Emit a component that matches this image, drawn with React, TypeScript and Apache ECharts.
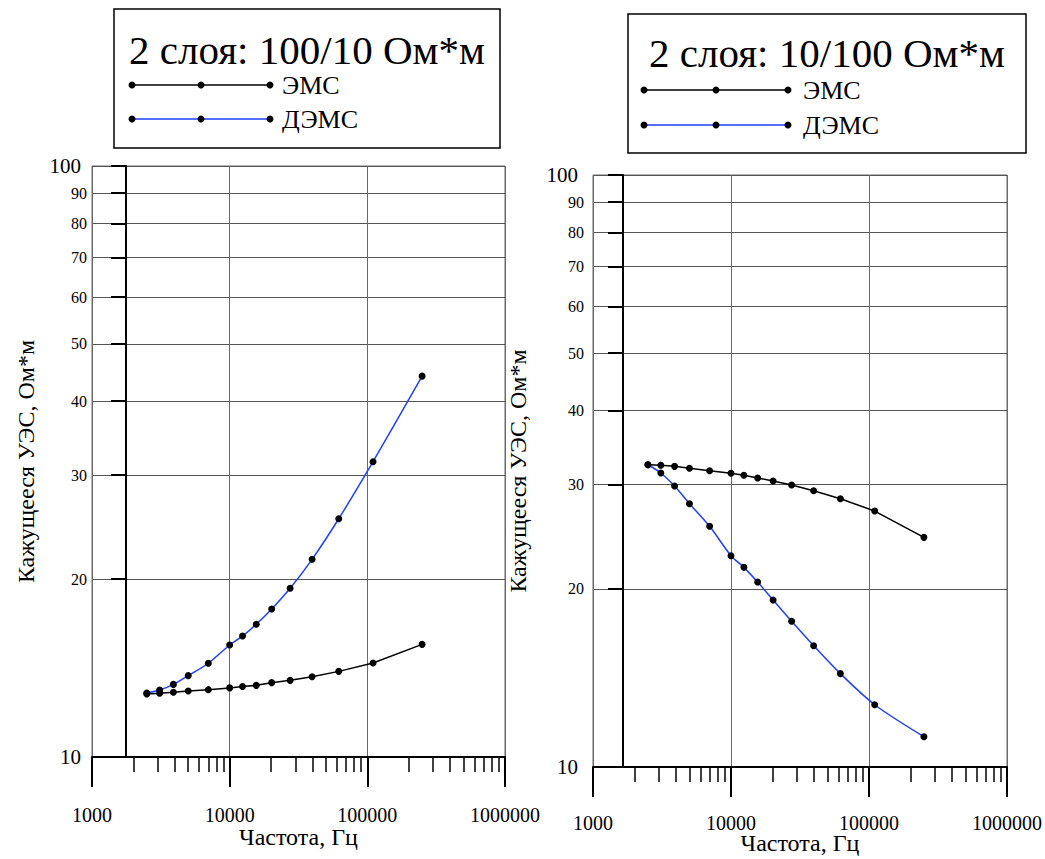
import React, { useEffect, useRef } from "react";
import * as echarts from "echarts";

// ---- data ----
const FREQ = [2500, 3100, 3900, 5000, 7000, 10000, 12400, 15600, 20200, 27500, 39700, 62000, 110000, 250000];
const LEFT_EMS = [12.78, 12.82, 12.87, 12.93, 13.0, 13.09, 13.16, 13.22, 13.36, 13.48, 13.67, 13.96, 14.42, 15.51];
const LEFT_DEMS = [12.83, 12.98, 13.27, 13.73, 14.41, 15.47, 16.02, 16.77, 17.8, 19.3, 21.6, 25.3, 31.6, 44.1];
const RIGHT_EMS = [32.4, 32.33, 32.2, 31.96, 31.66, 31.34, 31.1, 30.78, 30.42, 29.95, 29.29, 28.39, 27.06, 24.43];
const RIGHT_DEMS = [32.4, 31.38, 29.83, 27.85, 25.5, 22.75, 21.74, 20.53, 19.14, 17.63, 16.03, 14.38, 12.74, 11.25];

const Y_TICKS = [10, 20, 30, 40, 50, 60, 70, 80, 90, 100];
const Y_INNER_TICKS = [20, 30, 40, 50, 60, 70, 80, 90, 100];
const X_MAJOR = [1000, 10000, 100000, 1000000];
const X_MINOR = [
  2000, 3000, 4000, 5000, 6000, 7000, 8000, 9000,
  20000, 30000, 40000, 50000, 60000, 70000, 80000, 90000,
  200000, 300000, 400000, 500000, 600000, 700000, 800000, 900000,
];
const SERIES_NAMES = ["ЭМС", "ДЭМС"];
const TITLES = ["2 слоя: 100/10 Ом*м", "2 слоя: 10/100 Ом*м"];
const X_NAME = "Частота, Гц";
const Y_NAME = "Кажущееся УЭС, Ом*м";

const FONT = '"Liberation Serif", "Times New Roman", serif';
const BLUE = "#1e40ff";

const PANELS = [
  {
    grid: { left: 92, top: 166, width: 413, height: 591 },
    axisOff: -34, yNameGap: 54, xNameGap: 68, xLabelMargin: 48, yLabelMargin: 5,
    box: { x: 114, y: 9, w: 386, h: 139 }, titleY: 50,
    legendY: [85, 119], lineX: [132, 270], textX: 282,
    ems: LEFT_EMS, dems: LEFT_DEMS, title: TITLES[0],
  },
  {
    grid: { left: 593, top: 175, width: 414, height: 592 },
    axisOff: -30, yNameGap: 63, xNameGap: 64, xLabelMargin: 46, yLabelMargin: 9,
    box: { x: 628, y: 14, w: 398, h: 139 }, titleY: 53,
    legendY: [90, 125], lineX: [644, 788], textX: 803,
    ems: RIGHT_EMS, dems: RIGHT_DEMS, title: TITLES[1],
  },
];

function buildOption() {
  const grids: any[] = [];
  const xAxes: any[] = [];
  const yAxes: any[] = [];
  const series: any[] = [];
  const graphics: any[] = [];

  PANELS.forEach((p, gi) => {
    grids.push({
      ...p.grid,
      show: true,
      borderColor: "#6a6a6a",
      borderWidth: 1,
      backgroundColor: "transparent",
      containLabel: false,
      outerBoundsMode: "none",
    });
    // main x axis (major ticks + labels + vertical grid)
    xAxes.push({
      type: "log",
      logBase: 10,
      gridIndex: gi,
      min: 1000,
      max: 1000000,
      position: "bottom",
      axisLine: { show: true, lineStyle: { color: "#000", width: 2 } },
      axisTick: { show: true, customValues: X_MAJOR, length: 30, lineStyle: { color: "#000", width: 2 } },
      axisLabel: {
        show: true,
        customValues: X_MAJOR,
        margin: p.xLabelMargin,
        color: "#000",
        fontSize: 20,
        fontFamily: FONT,
        formatter: (v: number) => String(Math.round(v)),
      },
      splitLine: { show: true, lineStyle: { color: "#6a6a6a", width: 1 } },
      minorTick: { show: false },
      name: X_NAME,
      nameLocation: "middle",
      nameGap: p.xNameGap,
      nameMoveOverlap: false,
      nameTextStyle: { color: "#000", fontSize: 24, fontFamily: FONT },
    });
    // minor tick x axis
    xAxes.push({
      type: "log",
      logBase: 10,
      gridIndex: gi,
      min: 1000,
      max: 1000000,
      position: "bottom",
      axisLine: { show: false },
      axisTick: { show: true, customValues: X_MINOR, length: 15, lineStyle: { color: "#000", width: 1.5 } },
      axisLabel: { show: false },
      splitLine: { show: false },
    });
    // main y axis (labels + horizontal grid)
    yAxes.push({
      type: "log",
      logBase: 10,
      gridIndex: gi,
      min: 10,
      max: 100,
      position: "left",
      axisLine: { show: false },
      axisTick: { show: false, customValues: Y_TICKS },
      axisLabel: {
        show: true,
        customValues: Y_TICKS,
        margin: p.yLabelMargin,
        formatter: (v: number) => {
          const r = Math.round(v);
          return r === 10 || r === 100 ? `{big|${r}}` : `{small|${r}}`;
        },
        rich: {
          big: { fontSize: 21, fontFamily: FONT, color: "#000", padding: [0, 6, 0, 0] },
          small: { fontSize: 16, fontFamily: FONT, color: "#000" },
        },
      },
      splitLine: { show: true, lineStyle: { color: "#555", width: 1 } },
      name: Y_NAME,
      nameLocation: "middle",
      nameGap: p.yNameGap,
      nameMoveOverlap: false,
      nameRotate: 90,
      nameTextStyle: { color: "#000", fontSize: 24, fontFamily: FONT },
    });
    // inner thick y axis line with short ticks
    yAxes.push({
      type: "log",
      logBase: 10,
      gridIndex: gi,
      min: 10,
      max: 100,
      position: "left",
      offset: p.axisOff,
      axisLine: { show: true, lineStyle: { color: "#000", width: 2 } },
      axisTick: { show: true, customValues: Y_INNER_TICKS, length: 15, inside: false, lineStyle: { color: "#000", width: 2 } },
      axisLabel: { show: false },
      splitLine: { show: false },
    });

    const xi = gi * 2;
    const yi = gi * 2;
    series.push({
      name: SERIES_NAMES[1],
      type: "line",
      xAxisIndex: xi,
      yAxisIndex: yi,
      data: FREQ.map((f, i) => [f, p.dems[i]]),
      symbol: "circle",
      symbolSize: 7,
      smooth: 0.3,
      itemStyle: { color: "#000" },
      lineStyle: { color: BLUE, width: 1.5 },
      z: 3,
    });
    series.push({
      name: SERIES_NAMES[0],
      type: "line",
      xAxisIndex: xi,
      yAxisIndex: yi,
      data: FREQ.map((f, i) => [f, p.ems[i]]),
      symbol: "circle",
      symbolSize: 7,
      itemStyle: { color: "#000" },
      lineStyle: { color: "#000", width: 1.5 },
      z: 4,
    });

    // legend box
    graphics.push({
      type: "rect",
      shape: { x: p.box.x, y: p.box.y, width: p.box.w, height: p.box.h },
      style: { fill: "#fff", stroke: "#000", lineWidth: 1.5 },
      z: 10,
    });
    graphics.push({
      type: "text",
      x: p.box.x + p.box.w / 2,
      y: p.titleY,
      style: {
        text: p.title,
        fontSize: 41,
        fontFamily: FONT,
        fill: "#000",
        textAlign: "center",
        textVerticalAlign: "middle",
      },
      z: 11,
    });
    const colors = ["#000", BLUE];
    SERIES_NAMES.forEach((nm, k) => {
      const y = p.legendY[k];
      const [x0, x1] = p.lineX;
      graphics.push({
        type: "line",
        shape: { x1: x0, y1: y, x2: x1, y2: y },
        style: { stroke: colors[k], lineWidth: 1.5 },
        z: 11,
      });
      [x0, (x0 + x1) / 2, x1].forEach((cx) => {
        graphics.push({
          type: "circle",
          shape: { cx, cy: y, r: 3.5 },
          style: { fill: "#000" },
          z: 12,
        });
      });
      graphics.push({
        type: "text",
        x: p.textX,
        y,
        style: {
          text: nm,
          fontSize: 26,
          fontFamily: FONT,
          fill: "#000",
          textAlign: "left",
          textVerticalAlign: "middle",
        },
        z: 11,
      });
    });
  });

  return {
    animation: false,
    backgroundColor: "#fff",
    textStyle: { fontFamily: FONT },
    grid: grids,
    xAxis: xAxes,
    yAxis: yAxes,
    series,
    graphic: graphics,
  };
}

export default function App() {
  const ref = useRef<HTMLDivElement>(null);
  useEffect(() => {
    if (!ref.current) return;
    const chart = echarts.init(ref.current, undefined, { renderer: "svg" });
    chart.setOption(buildOption() as any);
    return () => chart.dispose();
  }, []);
  return (
    <div
      ref={ref}
      style={{ position: "absolute", left: 0, top: 0, width: 1045, height: 859, background: "#fff" }}
    />
  );
}
